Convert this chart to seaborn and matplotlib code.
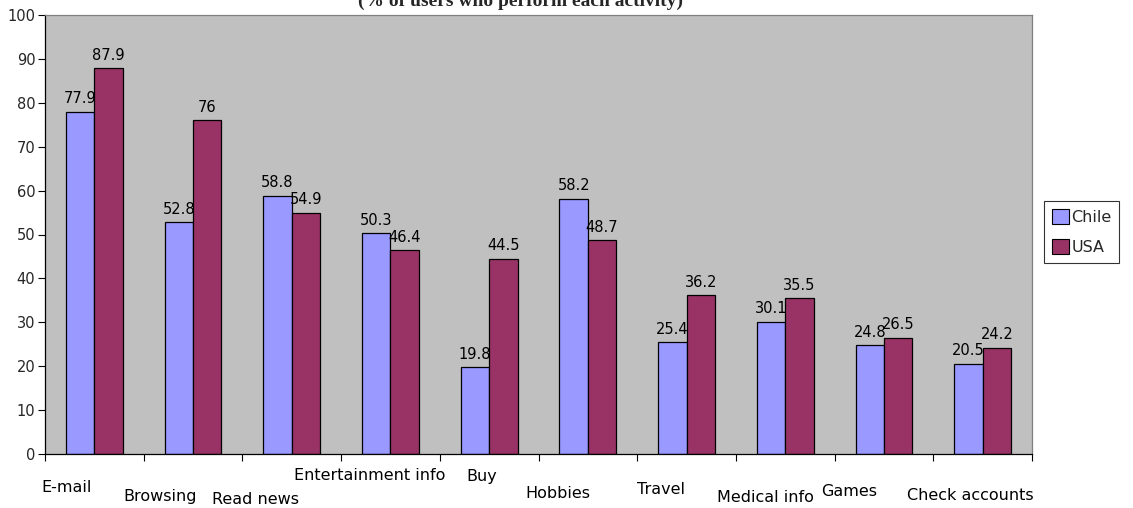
import numpy as np
import pandas as pd
import matplotlib
matplotlib.use("Agg")
import matplotlib.pyplot as plt
import seaborn as sns

categories = ["E-mail", "Browsing", "Read news", "Entertainment info", "Buy",
              "Hobbies", "Travel", "Medical info", "Games", "Check accounts"]
chile = [77.9, 52.8, 58.8, 50.3, 19.8, 58.2, 25.4, 30.1, 24.8, 20.5]
usa = [87.9, 76, 54.9, 46.4, 44.5, 48.7, 36.2, 35.5, 26.5, 24.2]
series_names = ["Chile", "USA"]
yticks = list(range(0, 101, 10))

# label layout (offsets in category units, vertical pixel positions)
label_dx = [-0.28, -0.33, -0.37, -0.21, -0.08, -0.30, -0.26, -0.20, -0.35, -0.12]
label_py = [487, 497, 500, 476, 476, 493, 489, 497, 492, 496]

df = pd.DataFrame({
    "activity": categories * 2,
    "value": chile + usa,
    "country": [series_names[0]] * len(categories) + [series_names[1]] * len(categories),
})

sns.set_theme(style="white")
plt.rcParams['font.family'] = ['DejaVu Sans']

W, H = 1133, 508
fig = plt.figure(figsize=(W / 100, H / 100), dpi=100)
ax = fig.add_axes([45 / W, 1 - 454 / H, (1032 - 45) / W, (454 - 15) / H])
ax.set_facecolor("#C0C0C0")

sns.barplot(data=df, x="activity", y="value", hue="country",
            palette=["#9999FF", "#993366"], width=0.575, saturation=1,
            edgecolor="black", linewidth=0.9, ax=ax, legend=True)

for cont in ax.containers:
    ax.bar_label(cont, fmt="%g", padding=4, fontsize=10.5, color="black")

ax.set_ylim(0, 100)
ax.set_xlim(-0.5, len(categories) - 0.5)
ax.set_yticks(yticks)
ax.set_yticklabels([str(v) for v in yticks], fontsize=10.5)
ax.set_xticks(np.arange(-0.5, len(categories), 1))
ax.set_xticklabels([])
ax.tick_params(axis="both", which="major", direction="out", length=5, width=0.8,
               color="black", left=True, bottom=True, pad=2)
ax.set_xlabel("")
ax.set_ylabel("")

for side in ["left", "bottom"]:
    ax.spines[side].set_color("black")
    ax.spines[side].set_linewidth(0.9)
for side in ["top", "right"]:
    ax.spines[side].set_color("#808080")
    ax.spines[side].set_linewidth(0.9)

trans = matplotlib.transforms.blended_transform_factory(ax.transData, fig.transFigure)
for i, lab in enumerate(categories):
    ax.text(i + label_dx[i], 1 - label_py[i] / H, lab, transform=trans,
            ha="center", va="center", fontsize=11.5, color="black")

leg = ax.legend(loc="upper left", bbox_to_anchor=(1044 / W, 1 - 201 / H),
                bbox_transform=fig.transFigure, frameon=True, fancybox=False,
                fontsize=11.5, handlelength=1.05, handleheight=1.05,
                handletextpad=0.15, borderpad=0.5, labelspacing=0.9,
                borderaxespad=0)
leg.get_frame().set_edgecolor("black")
leg.get_frame().set_linewidth(0.8)
leg.get_frame().set_facecolor("white")
for h in leg.legend_handles:
    h.set_edgecolor("black")
    h.set_linewidth(0.8)

fig.text(521 / W, 1 - 6 / H, "(% of users who perform each activity)",
         ha="center", va="baseline", fontsize=14, fontweight="bold",
         family=["Liberation Serif"])

fig.savefig("out.png", dpi=100)
